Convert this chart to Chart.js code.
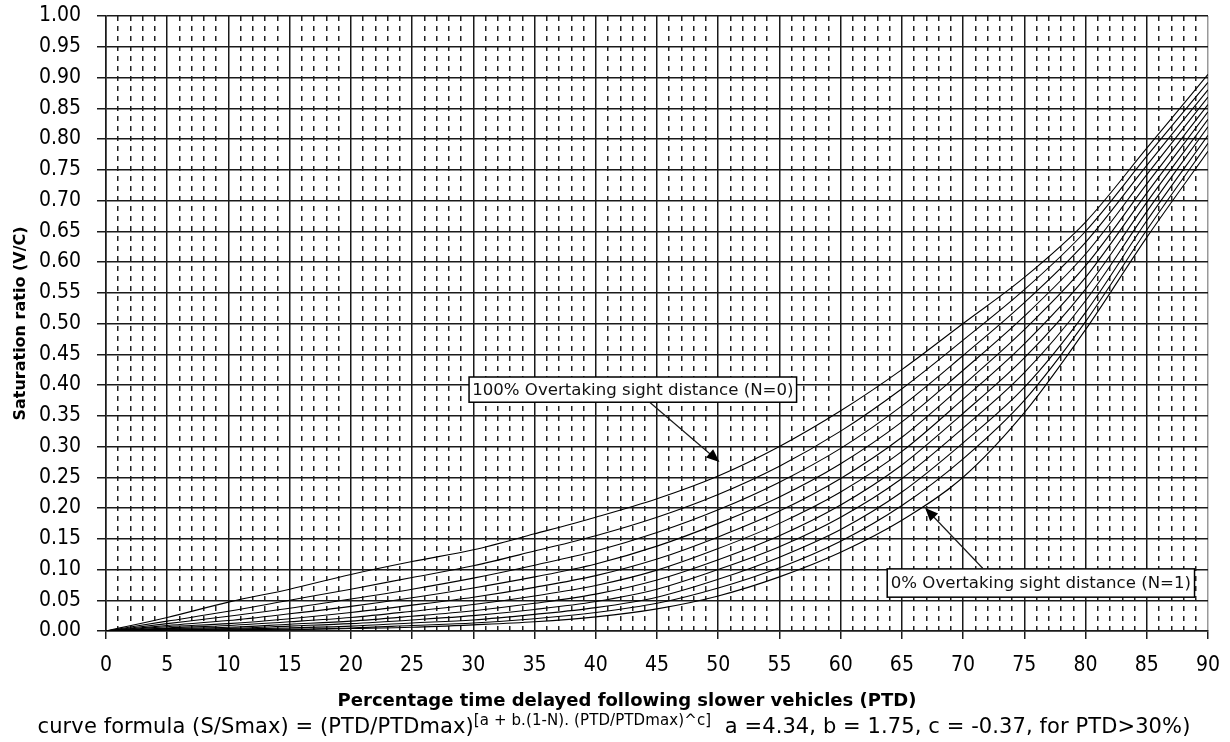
<!DOCTYPE html>
<html>
<head>
<meta charset="utf-8">
<script src="https://cdn.jsdelivr.net/npm/chart.js@4.4.0/dist/chart.umd.min.js"></script>
<style>
    html, body { margin: 0; padding: 0; background: #fff; }
    #wrap { position: relative; width: 1230px; height: 742px; }
    .lbl { position: absolute; white-space: nowrap; color: #000; font-family: 'DejaVu Sans', Verdana, sans-serif; }
    #xTitle { left: 327px; top: 689px; width: 600px; text-align: center; font-size: 18px; font-weight: bold; }
    #caption { left: 0; top: 711px; width: 1228px; text-align: center; font-size: 21px; letter-spacing: 0.1px; }
    #caption sup { font-size: 15px; vertical-align: 8px; }
</style>
</head>
<body>
<div id="wrap">
    <canvas id="satChart" width="1230" height="742"></canvas>
    <div id="xTitle" class="lbl">Percentage time delayed following slower vehicles (PTD)</div>
    <div id="caption" class="lbl">curve formula (S/Smax) = (PTD/PTDmax)<sup>[a + b.(1-N). (PTD/PTDmax)^c]</sup>&nbsp; a =4.34, b = 1.75, c = -0.37, for PTD&gt;30%)</div>
</div>
<script>
// ============================================================
// Saturation ratio vs PTD — one curve per N (0 .. 1)
// ============================================================

const ptd = [0, 5, 10, 15, 20, 25, 30, 35, 40, 45, 50, 55, 60, 65, 70, 75, 80, 85, 90];

// values, top curve (N=0) down to bottom curve (N=1)
const n00 = [0, .022, .047, .068, .092, .113, .132, .158, .185, .215, .252, .300, .358, .425, .500, .575, .665, .785, .905];
const n01 = [0, .016, .032, .050, .068, .087, .106, .130, .155, .185, .222, .268, .325, .394, .473, .555, .650, .772, .892];
const n02 = [0, .012, .024, .037, .052, .068, .086, .107, .130, .160, .197, .242, .297, .366, .448, .534, .632, .757, .880];
const n03 = [0, .009, .017, .028, .040, .054, .070, .088, .109, .138, .175, .218, .272, .340, .424, .512, .613, .742, .868];
const n04 = [0, .007, .012, .020, .030, .042, .055, .071, .090, .117, .153, .195, .248, .315, .400, .490, .594, .727, .856];
const n05 = [0, .005, .009, .015, .022, .032, .043, .057, .074, .099, .134, .175, .226, .292, .377, .467, .575, .712, .844];
const n06 = [0, .004, .006, .011, .016, .024, .033, .045, .060, .083, .116, .155, .205, .270, .354, .444, .556, .697, .832];
const n07 = [0, .003, .004, .008, .012, .018, .025, .035, .048, .068, .100, .137, .185, .248, .330, .420, .537, .682, .820];
const n08 = [0, .002, .003, .005, .008, .013, .018, .027, .038, .055, .084, .120, .165, .226, .306, .396, .518, .667, .806];
const n09 = [0, .001, .002, .003, .005, .009, .013, .020, .030, .045, .070, .103, .146, .204, .280, .375, .503, .652, .793];
const n10 = [0, .001, .001, .002, .004, .006, .010, .015, .023, .036, .057, .088, .128, .180, .250, .355, .490, .640, .780];

const curves   = [n00, n01, n02, n03, n04, n05, n06, n07, n08, n09, n10];
const curveIds = ['N=0', 'N=0.1', 'N=0.2', 'N=0.3', 'N=0.4', 'N=0.5', 'N=0.6', 'N=0.7', 'N=0.8', 'N=0.9', 'N=1'];

// callouts, placed in data units
const notes = [
    { text: '100% Overtaking sight distance (N=0)', x0: 29.65, x1: 56.4, yTop: 0.413, yBot: 0.372, from: [44.4, 0.372], to: [50.1, 0.275] },
    { text: '0% Overtaking sight distance (N=1)',   x0: 63.8,  x1: 88.9, yTop: 0.101, yBot: 0.055, from: [71.6, 0.102], to: [66.9, 0.200] }
];

const INK       = '#1a1a1a';
const tickFont  = "'Liberation Sans Narrow', 'DejaVu Sans Condensed', 'Liberation Sans', sans-serif";
const labelFont = "'DejaVu Sans', Verdana, sans-serif";

const calloutPlugin = {
    id: 'callouts',
    afterDatasetsDraw(chart) {
        const { ctx, scales: { x, y } } = chart;
        ctx.save();
        notes.forEach(n => {
            // arrow
            const fx = x.getPixelForValue(n.from[0]), fy = y.getPixelForValue(n.from[1]);
            const tx = x.getPixelForValue(n.to[0]),   ty = y.getPixelForValue(n.to[1]);
            const ang = Math.atan2(ty - fy, tx - fx);
            ctx.strokeStyle = INK;
            ctx.lineWidth = 1.2;
            ctx.beginPath();
            ctx.moveTo(fx, fy);
            ctx.lineTo(tx - 8 * Math.cos(ang), ty - 8 * Math.sin(ang));
            ctx.stroke();
            ctx.fillStyle = '#000';
            ctx.beginPath();
            ctx.moveTo(tx, ty);
            ctx.lineTo(tx - 13 * Math.cos(ang) + 5.5 * Math.sin(ang), ty - 13 * Math.sin(ang) - 5.5 * Math.cos(ang));
            ctx.lineTo(tx - 13 * Math.cos(ang) - 5.5 * Math.sin(ang), ty - 13 * Math.sin(ang) + 5.5 * Math.cos(ang));
            ctx.closePath();
            ctx.fill();

            // box + text
            const bl = x.getPixelForValue(n.x0), br = x.getPixelForValue(n.x1);
            const bt = y.getPixelForValue(n.yTop), bb = y.getPixelForValue(n.yBot);
            ctx.fillStyle = '#fff';
            ctx.fillRect(bl, bt, br - bl, bb - bt);
            ctx.lineWidth = 1.5;
            ctx.strokeStyle = '#000';
            ctx.strokeRect(bl, bt, br - bl, bb - bt);
            ctx.fillStyle = '#111';
            ctx.font = "16.6px " + labelFont;
            ctx.textAlign = 'center';
            ctx.textBaseline = 'middle';
            ctx.fillText(n.text, (bl + br) / 2, (bt + bb) / 2 + 1);
        });
        ctx.restore();
    }
};

new Chart(document.getElementById('satChart').getContext('2d'), {
    type: 'line',
    data: {
        datasets: curves.map((vals, i) => ({
            label: curveIds[i],
            data: ptd.map((p, k) => ({ x: p, y: vals[k] })),
            borderColor: '#000',
            borderWidth: 1.1,
            pointRadius: 0,
            fill: false,
            cubicInterpolationMode: 'monotone'
        }))
    },
    options: {
        responsive: false,
        animation: false,
        layout: { padding: { top: 16, right: 22, bottom: 30, left: 0 } },
        plugins: { legend: { display: false }, tooltip: { enabled: false } },
        scales: {
            x: {
                type: 'linear', min: 0, max: 90, position: 'bottom',
                ticks: { stepSize: 5, autoSkip: false, maxRotation: 0, padding: 14, color: '#000', font: { family: tickFont, size: 21 } },
                grid: { color: c => (c.tick && c.tick.value === 90 ? '#999' : INK), lineWidth: 1.5, tickLength: 8, tickColor: INK },
                border: { color: INK, width: 1.5 },
                afterFit: s => { s.height = 81; s.paddingLeft = 0; s.paddingRight = 0; }
            },
            xMinor: {
                type: 'linear', min: 0, max: 90, position: 'top',
                ticks: { display: false, stepSize: 1, autoSkip: false },
                grid: { color: c => (c.tick && c.tick.value % 5 === 0 ? 'rgba(0,0,0,0)' : '#222'), lineWidth: 1.5, drawTicks: false },
                border: { display: false, dash: [5, 5] },
                afterFit: s => { s.height = 0; s.paddingLeft = 0; s.paddingRight = 0; }
            },
            y: {
                min: 0, max: 1,
                ticks: { stepSize: 0.05, autoSkip: false, padding: 16, color: '#000', font: { family: tickFont, size: 21 },
                         callback: v => v.toFixed(2) },
                grid: { color: INK, lineWidth: 1.5, tickLength: 9, tickColor: INK },
                border: { color: INK, width: 1.5 },
                title: { display: true, text: 'Saturation ratio (V/C)', color: '#000', padding: { top: 11 },
                         font: { family: labelFont, size: 16, weight: 'bold' } },
                afterFit: s => { s.width = 106; s.paddingTop = 0; s.paddingBottom = 0; }
            }
        }
    },
    plugins: [calloutPlugin]
});
</script>
</body>
</html>
